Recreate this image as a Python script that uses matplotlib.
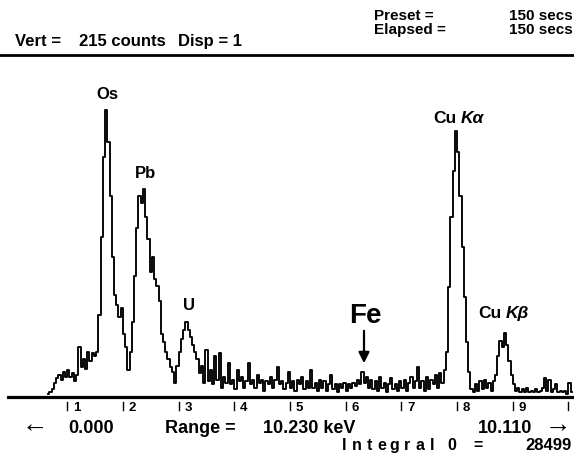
import numpy as np
import matplotlib
matplotlib.use("Agg")
import matplotlib.pyplot as plt
from matplotlib.lines import Line2D
from matplotlib.patches import FancyArrowPatch
import matplotlib.transforms as mtransforms

plt.rcParams['font.family'] = ['Liberation Sans', 'DejaVu Sans']
plt.rcParams['font.weight'] = 'bold'

# EDS spectrum, counts per channel starting at kev_start
kev_start = 0.66
kev_step = 0.04
counts = [
    2, 3, 5, 9, 12, 14, 11, 16, 13, 17,
    13, 15, 10, 14, 32, 19, 24, 18, 29, 23,
    28, 26, 29, 52, 102, 153, 183, 163, 128, 89,
    65, 59, 51, 57, 40, 32, 17, 29, 48, 77,
    108, 128, 124, 133, 115, 101, 80, 89, 75, 71,
    61, 40, 35, 29, 24, 19, 16, 9, 20, 29,
    37, 43, 48, 43, 38, 33, 29, 24, 15, 20,
    9, 30, 10, 17, 8, 26, 11, 28, 6, 13,
    9, 22, 8, 11, 5, 17, 10, 13, 6, 10,
    22, 8, 11, 6, 14, 9, 11, 4, 10, 8,
    13, 6, 11, 19, 8, 10, 5, 9, 16, 6,
    10, 4, 11, 8, 13, 5, 10, 6, 17, 6,
    9, 4, 11, 6, 10, 4, 8, 14, 5, 8,
    3, 8, 6, 9, 4, 8, 6, 9, 7, 11,
    8, 16, 9, 13, 6, 11, 5, 10, 4, 13,
    6, 9, 3, 8, 12, 5, 8, 4, 10, 6,
    11, 4, 9, 13, 6, 10, 19, 6, 10, 4,
    13, 5, 11, 8, 14, 6, 15, 9, 17, 29,
    70, 115, 144, 170, 156, 128, 96, 64, 35, 16,
    5, 3, 8, 4, 10, 5, 11, 6, 9, 4,
    10, 14, 26, 36, 32, 41, 33, 23, 14, 8,
    4, 6, 3, 5, 3, 6, 3, 4, 3, 5,
    3, 4, 6, 12, 4, 11, 3, 5, 8, 3,
    4, 3, 4, 2, 9, 3,
]
tick_kev = [1, 2, 3, 4, 5, 6, 7, 8, 9, 10]
tick_labels = ['1', '2', '3', '4', '5', '6', '7', '8', '9', '']

W, H = 574, 455


def fx(x):
    return x / W


def fy(y):
    return 1 - y / H


fig = plt.figure(figsize=(W / 100, H / 100), dpi=100)
ax = fig.add_axes([fx(8), fy(397), (W - 8) / W, 337 / H])

energy = kev_start + kev_step * np.arange(len(counts))
ax.plot(energy, counts, drawstyle='steps-mid', color='black', lw=1.35)
ax.set_xlim(-0.063, 10.099)
ax.set_ylim(0, 215)
for side in ['left', 'right', 'top']:
    ax.spines[side].set_visible(False)
ax.spines['bottom'].set_linewidth(2.3)
ax.set_xticks([])
ax.set_yticks([])

# ticks below the base line, labels to the right of each tick
trans = mtransforms.blended_transform_factory(ax.transData, ax.transAxes)
for k, lab in zip(tick_kev, tick_labels):
    ax.plot([k, k], [-0.015, -0.039], transform=trans, color='black',
            lw=1.0, clip_on=False)
    ax.text(k + 0.1, -0.042, lab, transform=trans, fontsize=9.5,
            ha='left', va='baseline')

# header
fig.text(fx(15), fy(46), 'Vert =', fontsize=12, va='baseline')
fig.text(fx(79), fy(46), '215 counts', fontsize=12, va='baseline')
fig.text(fx(178), fy(46), 'Disp = 1', fontsize=12, va='baseline')
fig.text(fx(374), fy(20), 'Preset =', fontsize=11, va='baseline')
fig.text(fx(374), fy(34), 'Elapsed =', fontsize=11, va='baseline')
fig.text(fx(573), fy(20), '150 secs', fontsize=11, va='baseline', ha='right')
fig.text(fx(573), fy(34), '150 secs', fontsize=11, va='baseline', ha='right')
fig.add_artist(Line2D([0, 1], [fy(55), fy(55)], color='black', lw=2.0))

# peak labels
fig.text(fx(96), fy(99), 'Os', fontsize=12, va='baseline')
fig.text(fx(135), fy(178), 'Pb', fontsize=12, va='baseline')
fig.text(fx(183), fy(310), 'U', fontsize=12, va='baseline')
fig.text(fx(349), fy(323), 'Fe', fontsize=20, va='baseline')
fig.text(fx(433), fy(123), 'Cu', fontsize=12.5, va='baseline')
fig.text(fx(461), fy(123), 'K\u03b1', fontsize=12.5, va='baseline', style='italic')
fig.text(fx(478), fy(318), 'Cu', fontsize=12.5, va='baseline')
fig.text(fx(506), fy(318), 'K\u03b2', fontsize=12.5, va='baseline', style='italic')
fig.add_artist(FancyArrowPatch(
    (fx(364), fy(328)), (fx(364), fy(366)), transform=fig.transFigure,
    arrowstyle='-|>', mutation_scale=16, lw=1.6, color='black'))

# footer
fig.text(fx(35), fy(425), '\u2190', fontsize=19, ha='center', va='center')
fig.text(fx(68), fy(433), '0.000', fontsize=13, va='baseline')
fig.text(fx(165), fy(433), 'Range =', fontsize=13, va='baseline')
fig.text(fx(263), fy(433), '10.230 keV', fontsize=13, va='baseline')
fig.text(fx(478), fy(433), '10.110', fontsize=13, va='baseline')
fig.text(fx(558), fy(425), '\u2192', fontsize=19, ha='center', va='center')
for j, ch in enumerate('Integral'):
    fig.text(fx(344 + 12.6 * j), fy(450), ch, fontsize=11.5,
             va='baseline', ha='center')
fig.text(fx(452), fy(450), '0', fontsize=11.5, va='baseline', ha='center')
fig.text(fx(478), fy(450), '=', fontsize=11.5, va='baseline', ha='center')
fig.text(fx(572), fy(450), '28499', fontsize=12, va='baseline', ha='right')

fig.savefig('out.png', dpi=100)
